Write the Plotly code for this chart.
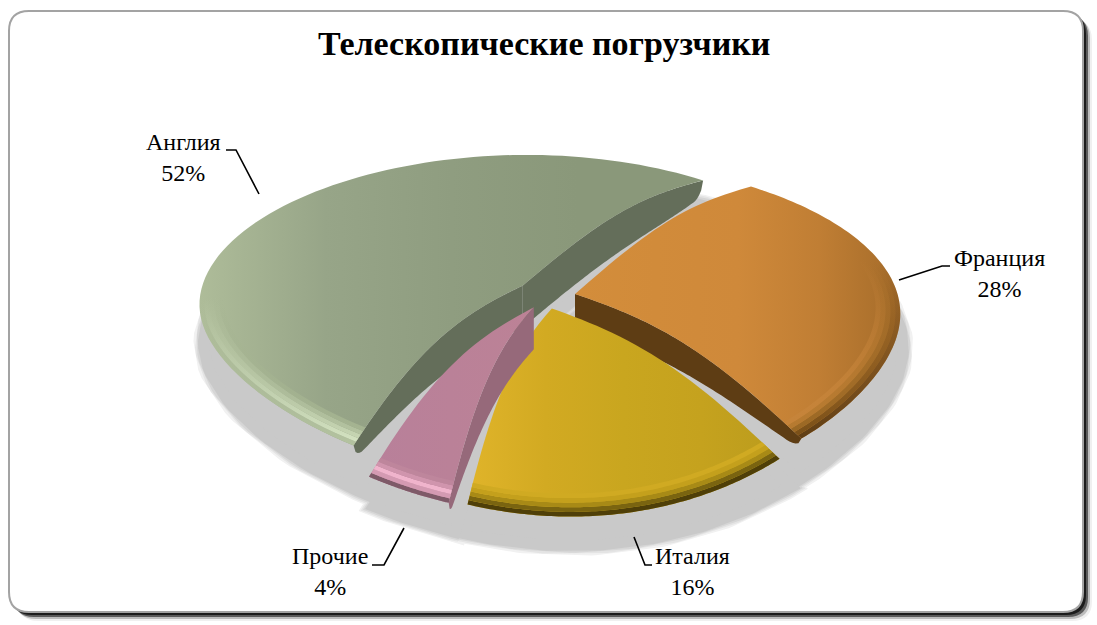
import numpy as np
import plotly.graph_objects as go

# chart values
categories = ['Англия', 'Франция', 'Италия', 'Прочие']
shares = [52, 28, 16, 4]
title_text = 'Телескопические погрузчики'

# look of the tilted pie, in page pixels
CX, CY, R, B, K = 546, 294, 338, 160, 0.2
FIRST_ANGLE = 212
EXPLODE = 0.09
DOME = 16

TOP_FACE = [
    ['#aebc99', '#97a588', '#8f9d80', '#8a987a', '#8a987a'],
    ['#d38d3b', '#d18b3a', '#cf893a', '#c07e34', '#a56c2a'],
    ['#e0b42a', '#d2aa22', '#c9a61f', '#c5a21e', '#bb9c1d'],
    ['#b8809a', '#bc8296'],
]
# bevel along the arc, outermost band first
RIM_BANDS = [
    ['#b4c3a0', '#d3e2c0', '#c6d5b2', '#b4c3a0', '#a5b491'],
    ['#5e3d14', '#7a5018', '#9a6824', '#b67a30', '#c6843a'],
    ['#4f3f08', '#7a6410', '#a88a16', '#c4a01c', '#d0aa22'],
    ['#7e5a68', '#d49ab2', '#f0b4cc', '#d095ad', '#be869c'],
]
RIM_FADE = [0.5, 0.7, 1.0, 1.0]
RIM_STEPS = [1.0, 0.985, 0.97, 0.955, 0.94, 0.925]
WALLS = ['#646e5a', '#5e3d14', None, '#96697a']
SHADOW = ['#f1f1f1', '#e4e4e4', '#d6d6d6', '#c9c9c9']


def project(u, v, r):
    narrow = (v + 0.2 + np.sqrt((v + 0.2) ** 2 + 0.1)) / 2
    x = CX + R * u * (1 - 0.16 * narrow) + 16 * np.maximum(-v, 0) ** 2
    y = CY - B * v / (1 + K * v) - DOME * np.sin(np.pi * np.clip(r, 0, 1))
    return x, y


def slice_angles():
    total = sum(shares)
    start = FIRST_ANGLE
    out = []
    for s in shares:
        span = 360 * s / total
        out.append((start, start + span))
        start += span
    return out


def apex(a0, a1, explode=EXPLODE):
    mid = np.radians((a0 + a1) / 2)
    return explode * np.sin(mid), explode * np.cos(mid)


def wedge(a0, a1, explode=EXPLODE):
    eu, ev = apex(a0, a1, explode)
    rr = np.linspace(0, 1, 30)
    arc = np.radians(np.linspace(a0, a1, 90))
    r = np.concatenate([rr, np.ones(90), rr[::-1]])
    b = np.concatenate([np.full(30, arc[0]), arc, np.full(30, arc[-1])])
    return project(eu + r * np.sin(b), ev + r * np.cos(b), r)


def band(a0, a1, r0, r1):
    # ring segment between two radii, for the bevel
    eu, ev = apex(a0, a1)
    arc = np.radians(np.linspace(a0, a1, 90))
    b = np.concatenate([arc, arc[::-1]])
    r = np.concatenate([np.full(90, r0), np.full(90, r1)])
    return project(eu + r * np.sin(b), ev + r * np.cos(b), r)


def wall(a0, a1, edge, thick=36):
    # side face under one cut edge, thinner towards the rim and rounded at its end
    eu, ev = apex(a0, a1)
    r = np.linspace(0, 1, 80)
    b = np.radians(edge)
    x, y = project(eu + r * np.sin(b), ev + r * np.cos(b), r)
    end = np.sqrt(np.clip(1 - (np.maximum(r - 0.94, 0) / 0.06) ** 2, 0, 1))
    yb = y + thick * (1 - 0.65 * r ** 3) * end
    return np.concatenate([x, x[::-1]]), np.concatenate([y, yb[::-1]])


def rounded_rect(x0, y0, x1, y1, c=20):
    return (f'M {x0+c} {y0} L {x1-c} {y0} Q {x1} {y0} {x1} {y0+c} L {x1} {y1-c} '
            f'Q {x1} {y1} {x1-c} {y1} L {x0+c} {y1} Q {x0} {y1} {x0} {y1-c} '
            f'L {x0} {y0+c} Q {x0} {y0} {x0+c} {y0} Z')


def ramp(colors):
    return [[i / (len(colors) - 1), c] for i, c in enumerate(colors)]


def rgba(hex_col, alpha):
    r, g, b = int(hex_col[1:3], 16), int(hex_col[3:5], 16), int(hex_col[5:7], 16)
    return f'rgba({r},{g},{b},{alpha})'


angles = slice_angles()
fig = go.Figure()

# ground shadow, opaque greys from light to dark
for n, col in enumerate(SHADOW):
    xs, ys = [], []
    for a0, a1 in angles:
        x, y = wedge(a0, a1, explode=0.03)
        xs += list(CX + 6 + (x - CX) * 1.05) + [None]
        ys += list(CY + 34 + (y - CY) * 1.05) + [None]
    fig.add_trace(go.Scatter(x=xs, y=ys, fill='toself', fillcolor=col, mode='lines',
                             line=dict(color=col, width=20 - 3 * n),
                             hoverinfo='skip', showlegend=False))

# slices from back to front
for i, (a0, a1) in enumerate(angles):
    if WALLS[i]:
        edges = [a0, a1] if i == 0 else [a1] if i == 1 else [a0]
        for e in edges:
            wx, wy = wall(a0, a1, e, thick=32 if i == 1 else 42)
            fig.add_trace(go.Scatter(x=wx, y=wy, fill='toself', fillcolor=WALLS[i], mode='none',
                                     hoverinfo='skip', showlegend=False))
    x, y = wedge(a0, a1)
    fig.add_trace(go.Scatter(x=x, y=y, fill='toself', mode='none',
                             fillgradient=dict(type='horizontal', colorscale=ramp(TOP_FACE[i])),
                             name=categories[i], hoverinfo='skip', showlegend=False))
    for j, col in enumerate(RIM_BANDS[i]):
        x, y = band(a0, a1, RIM_STEPS[j], RIM_STEPS[j + 1])
        # y axis runs downwards on the page, so the scale starts at the lower edge
        fade = RIM_FADE[i]
        scale = [[0, rgba(col, 1)], [fade, rgba(col, 1 if fade == 1.0 else 0)]]
        if fade < 1:
            scale.append([1, rgba(col, 0)])
        fig.add_trace(go.Scatter(x=x, y=y, fill='toself', mode='none',
                                 fillgradient=dict(type='vertical', colorscale=scale),
                                 hoverinfo='skip', showlegend=False))

# card frame with its hard shadow
shapes = []
for off, col in [(9, '#f0f0f0'), (7, '#bdbdbd'), (5, '#5a5a5a'), (3, '#1c1c1c')]:
    shapes.append(dict(type='path', path=rounded_rect(9 + off, 11 + off, 1083 + off, 612 + off),
                       fillcolor=col, line_width=0, layer='below'))
shapes.append(dict(type='path', path=rounded_rect(9, 11, 1083, 612), fillcolor='white',
                   line=dict(color='#a3a3a3', width=2), layer='below'))

# leader lines
for path in ['M 226 150 L 236 150 L 259 194', 'M 899 280 L 942 266 L 950 266',
             'M 372 565 L 384 565 L 404 528', 'M 634 537 L 645 565 L 652 565']:
    shapes.append(dict(type='path', path=path, line=dict(color='black', width=1.6)))

label_pos = [(183, 157), (999, 273), (692, 571), (330, 571)]
annotations = [
    dict(x=px, y=py, text=f'{c}<br>{s}%', showarrow=False, align='center',
         font=dict(family='Liberation Serif', size=24, color='black'))
    for c, s, (px, py) in zip(categories, shares, label_pos)
]
annotations.append(dict(x=544, y=43, text=f'<b>{title_text}</b>', showarrow=False,
                        font=dict(family='Liberation Serif', size=34, color='black')))

fig.update_layout(
    width=1097, height=625,
    margin=dict(l=0, r=0, t=0, b=0),
    paper_bgcolor='white', plot_bgcolor='rgba(0,0,0,0)',
    showlegend=False,
    shapes=shapes, annotations=annotations,
    xaxis=dict(range=[0, 1097], visible=False, fixedrange=True),
    yaxis=dict(range=[625, 0], visible=False, fixedrange=True),
)

# the page body has a default margin that would shift the figure
fig.write_html("out.html", config={'displayModeBar': False},
               post_script="document.body.style.margin='0';document.body.style.overflow='hidden';")
